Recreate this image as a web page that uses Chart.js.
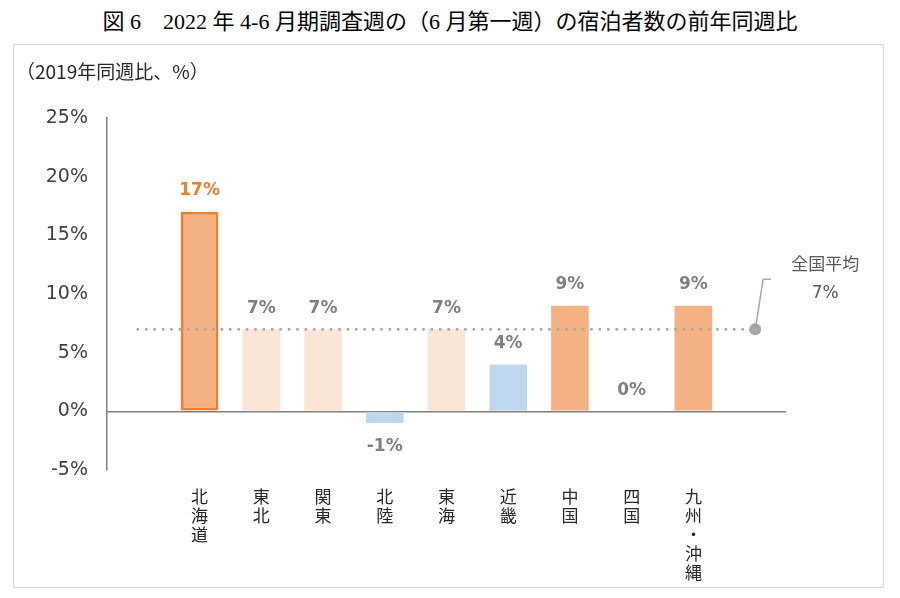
<!DOCTYPE html>
<html>
<head>
<meta charset="utf-8">
<script src="https://cdn.jsdelivr.net/npm/chart.js@4"></script>
<style>
    body { margin: 0; background: #fff; width: 900px; height: 598px; position: relative; overflow: hidden; }
    #title { position: absolute; top: 3px; left: 0; width: 900px; text-align: center; font-family: "Liberation Serif", "Noto Sans CJK JP"; font-size: 22px; color: #000; }
    #box { position: absolute; left: 13px; top: 44px; width: 871px; height: 544px; box-sizing: border-box; border: 1px solid #d9d9d9; }
    #unit { position: absolute; left: 16px; top: 57px; font-family: "Noto Sans CJK JP"; font-size: 19px; color: #262626; }
    canvas { display: block; }
</style>
</head>
<body>
<div id="title">図 6　2022 年 4-6 月期調査週の（6 月第一週）の宿泊者数の前年同週比</div>
<div id="box"><canvas id="chart" width="869" height="542"></canvas></div>
<div id="unit">（2019年同週比、%）</div>
<script>
// categories (empty slots at both ends leave room around the average line)
var regions = ['', ['北','海','道'], ['東','北'], ['関','東'], ['北','陸'], ['東','海'], ['近','畿'], ['中','国'], ['四','国'], ['九','州','・','沖','縄'], ''];
var changes = [null, 17, 7, 7, -1, 7, 4, 9, 0, 9, null];
var barColors = ['', '#F4B183', '#FBE5D6', '#FBE5D6', '#BDD7EE', '#FBE5D6', '#BDD7EE', '#F4B183', '#F4B183', '#F4B183', ''];
var nationalAvg = [7, 7, 7, 7, 7, 7, 7, 7, 7, 7, 7];
var avgLabel = ['全国平均', '7%'];
var yTicks = [-5, 0, 5, 10, 15, 20, 25];

var highlight = 1; // 北海道

// value labels above / below the bars
var barLabels = {
    id: 'barLabels',
    afterDatasetsDraw: function(chart) {
        var ctx = chart.ctx;
        var meta = chart.getDatasetMeta(1);
        ctx.save();
        ctx.font = 'bold 17px "DejaVu Sans"';
        ctx.textAlign = 'center';
        ctx.textBaseline = 'middle';
        meta.data.forEach(function(bar, i) {
            var v = changes[i];
            if (v === null) return;
            ctx.fillStyle = i === highlight ? '#ED7D31' : '#7F7F7F';
            var y = v >= 0 ? bar.y - 21 : bar.y + 24;
            ctx.fillText(v + '%', bar.x, y);
        });
        ctx.restore();
    }
};

// callout for the national average
var avgCallout = {
    id: 'avgCallout',
    afterDraw: function(chart) {
        var ctx = chart.ctx;
        var last = nationalAvg.length - 1;
        var px = chart.scales.x.getPixelForValue(last);
        var py = chart.scales.y.getPixelForValue(nationalAvg[last]);
        ctx.save();
        ctx.strokeStyle = '#A6A6A6';
        ctx.lineWidth = 1.5;
        ctx.beginPath();
        ctx.moveTo(px + 1, py - 5);
        ctx.lineTo(px + 8, py - 50);
        ctx.lineTo(px + 16, py - 50);
        ctx.stroke();
        ctx.fillStyle = '#595959';
        ctx.textAlign = 'center';
        ctx.textBaseline = 'middle';
        ctx.font = '17px "Noto Sans CJK JP"';
        ctx.fillText(avgLabel[0], px + 70, py - 66);
        ctx.font = '17px "DejaVu Sans"';
        ctx.fillText(avgLabel[1], px + 70, py - 36);
        ctx.restore();
    }
};

var chart = new Chart(document.getElementById('chart'), {
    data: {
        labels: regions,
        datasets: [
            {
                type: 'line',
                data: nationalAvg,
                borderColor: '#A6A6A6',
                borderWidth: 3,
                borderDash: [0, 8.4],
                borderCapStyle: 'round',
                pointRadius: nationalAvg.map(function(v, i) { return i === nationalAvg.length - 1 ? 6 : 0; }),
                pointBackgroundColor: '#A6A6A6',
                pointBorderWidth: 0,
                order: 0
            },
            {
                type: 'bar',
                data: changes,
                backgroundColor: barColors,
                borderColor: '#ED7D31',
                borderWidth: changes.map(function(v, i) { return i === highlight ? 3 : 0; }),
                borderSkipped: false,
                categoryPercentage: 1,
                barPercentage: 0.61,
                order: 1
            }
        ]
    },
    options: {
        responsive: false,
        animation: false,
        layout: { padding: { top: 73, right: 97, left: 0, bottom: 0 } },
        plugins: { legend: { display: false }, tooltip: { enabled: false } },
        scales: {
            x: {
                grid: { display: false },
                border: { display: false },
                ticks: {
                    autoSkip: false,
                    maxRotation: 0,
                    padding: 9,
                    color: '#262626',
                    font: { family: '"Noto Sans CJK JP"', size: 17, lineHeight: 1.12 }
                },
                afterFit: function(scale) { scale.height = 117; }
            },
            y: {
                min: -5,
                max: 25,
                afterBuildTicks: function(scale) {
                    scale.ticks = yTicks.map(function(v) { return { value: v }; });
                },
                grid: {
                    drawTicks: false,
                    color: function(c) { return c.tick && c.tick.value === 0 ? '#7F7F7F' : 'rgba(0,0,0,0)'; },
                    lineWidth: 1.5
                },
                border: { display: true, color: '#7F7F7F', width: 1.5 },
                ticks: {
                    padding: 19,
                    color: '#404040',
                    font: { family: '"DejaVu Sans"', size: 19 },
                    callback: function(v) { return v + '%'; }
                },
                afterFit: function(scale) { scale.width = 93; }
            }
        }
    },
    plugins: [barLabels, avgCallout]
});
</script>
</body>
</html>
